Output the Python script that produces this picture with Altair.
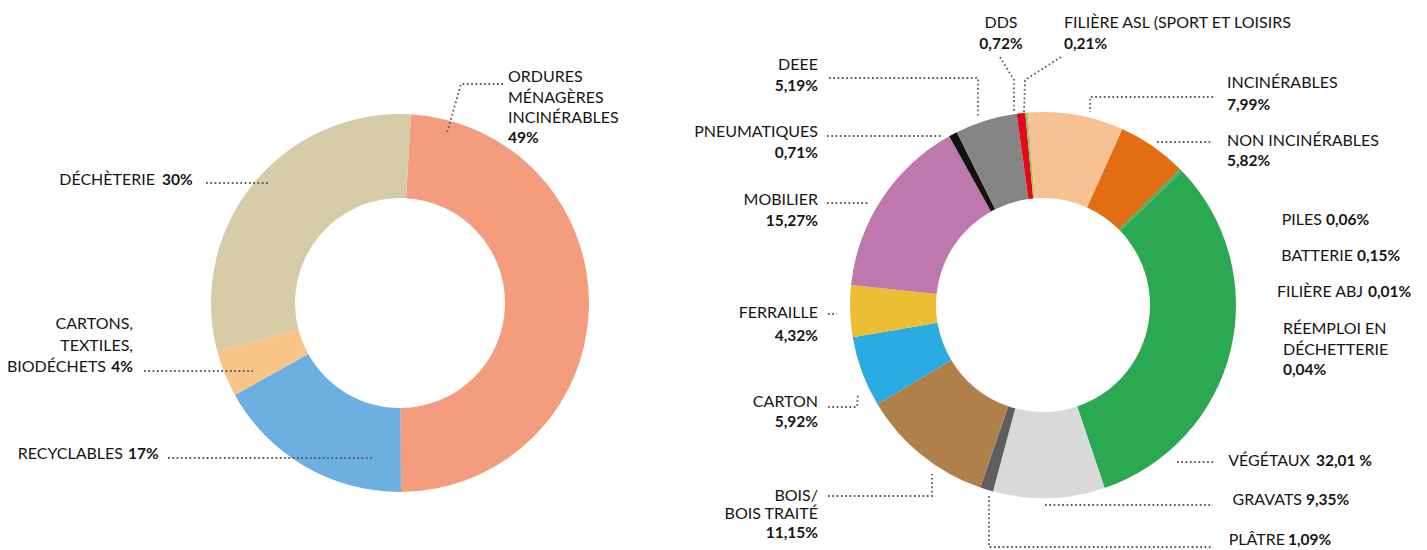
import math
import altair as alt
import pandas as pd

# ---------------- data ----------------
left_categories = ["Ordures ménagères incinérables", "Recyclables",
                   "Cartons, textiles, biodéchets", "Déchèterie"]
left_values = [49, 17, 4, 30]
left_colors = ["#F49C7E", "#6BB0E1", "#F8C487", "#D5CBA7"]

right_categories = ["Non incinérables", "Piles", "Batterie", "Filière ABJ",
                    "Réemploi en déchetterie", "Végétaux", "Gravats", "Plâtre",
                    "Bois/bois traité", "Carton", "Ferraille", "Mobilier",
                    "Pneumatiques", "DEEE", "DDS", "Filière ASL", "Incinérables"]
right_values = [5.82, 0.06, 0.15, 0.01, 0.04, 32.01, 9.35, 1.09, 11.15, 5.92,
                4.32, 15.27, 0.71, 5.19, 0.72, 0.21, 7.99]
right_colors = ["#E36D12", "#2BA952", "#2BA952", "#2BA952", "#2BA952", "#2BA952",
                "#D9D9D9", "#5E5E5E", "#B0804B", "#2AACE3", "#EBBE33", "#BE78AE",
                "#111111", "#858585", "#E20A17", "#9CCB63", "#F8C191"]

# label texts: (text, bold)
label_lines = [
    ("ORDURES", False), ("MÉNAGÈRES", False), ("INCINÉRABLES", False), ("49%", True),
    ("DÉCHÈTERIE", False), ("30%", True),
    ("CARTONS,", False), ("TEXTILES,", False), ("BIODÉCHETS", False), ("4%", True),
    ("RECYCLABLES", False), ("17%", True),
    ("DEEE", False), ("5,19%", True),
    ("DDS", False), ("0,72%", True),
    ("FILIÈRE ASL (SPORT ET LOISIRS", False), ("0,21%", True),
    ("INCINÉRABLES", False), ("7,99%", True),
    ("NON INCINÉRABLES", False), ("5,82%", True),
    ("PNEUMATIQUES", False), ("0,71%", True),
    ("MOBILIER", False), ("15,27%", True),
    ("PILES", False), ("0,06%", True),
    ("BATTERIE", False), ("0,15%", True),
    ("FILIÈRE ABJ", False), ("0,01%", True),
    ("RÉEMPLOI EN", False), ("DÉCHETTERIE", False), ("0,04%", True),
    ("FERRAILLE", False), ("4,32%", True),
    ("CARTON", False), ("5,92%", True),
    ("BOIS/", False), ("BOIS TRAITÉ", False), ("11,15%", True),
    ("VÉGÉTAUX", False), ("32,01 %", True),
    ("GRAVATS", False), ("9,35%", True),
    ("PLÂTRE", False), ("1,09%", True),
]

# ---------------- layout (page pixel coordinates) ----------------
W, H = 1411, 542
left_center = (400, 303)
right_center = (1043, 305)
left_radii = (189, 105)
right_radii = (193, 107)
left_start = math.radians(3.3)
right_start = math.radians(24.26)

label_pos = [
    (508, 82, "left"), (508, 103, "left"), (508, 123, "left"), (508, 143, "left"),
    (155, 185, "right"), (162, 185, "left"),
    (133, 329, "right"), (133, 351, "right"), (106, 372, "right"), (133, 372, "right"),
    (123, 459, "right"), (128, 459, "left"),
    (818, 70, "right"), (818, 91, "right"),
    (1001, 28, "center"), (1001, 49, "center"),
    (1064, 28, "left"), (1064, 49, "left"),
    (1227, 88, "left"), (1227, 110, "left"),
    (1227, 146, "left"), (1227, 166, "left"),
    (818, 137, "right"), (818, 158, "right"),
    (818, 205, "right"), (818, 226, "right"),
    (1322, 225, "right"), (1326, 225, "left"),
    (1353, 261, "right"), (1357, 261, "left"),
    (1363, 297, "right"), (1368, 297, "left"),
    (1283, 334, "left"), (1283, 355, "left"), (1283, 375, "left"),
    (818, 318, "right"), (818, 341, "right"),
    (818, 407, "right"), (818, 427, "right"),
    (818, 501, "right"), (818, 519, "right"), (818, 538, "right"),
    (1310, 466, "right"), (1316, 466, "left"),
    (1302, 505, "right"), (1306, 505, "left"),
    (1285, 545, "right"), (1288, 545, "left"),
]

leaders = [
    [(503, 84), (461, 84), (447, 133)],
    [(206, 183), (270, 183)],
    [(144, 371), (253, 371)],
    [(168, 458), (372, 458)],
    [(829, 78), (978, 78), (978, 117)],
    [(1000, 57), (1014, 80), (1014, 112)],
    [(1061, 57), (1025, 80), (1024, 112)],
    [(1213, 97), (1090, 97), (1090, 112)],
    [(1157, 142), (1212, 142)],
    [(827, 136), (942, 136)],
    [(827, 203), (868, 203)],
    [(828, 314), (837, 314)],
    [(828, 407), (857, 407), (858, 393)],
    [(828, 496), (932, 496), (932, 474)],
    [(1177, 462), (1213, 462)],
    [(1045, 505), (1213, 505)],
    [(989, 496), (989, 547), (1212, 547)],
]

xs = alt.Scale(domain=[8, 8 + W], nice=False, zero=False)
ys = alt.Scale(domain=[8, 8 + H], nice=False, zero=False, reverse=True)


def donut(cats, vals, cols, center, radii, start):
    df = pd.DataFrame({"cat": cats, "value": vals, "color": cols,
                       "idx": list(range(len(cats))),
                       "cx": center[0], "cy": center[1]})
    return alt.Chart(df).mark_arc(
        outerRadius=radii[0], innerRadius=radii[1]
    ).encode(
        theta=alt.Theta("value:Q", stack=True,
                        scale=alt.Scale(range=[start, start + 2 * math.pi])),
        order=alt.Order("idx:Q"),
        color=alt.Color("color:N", scale=None),
        x=alt.X("cx:Q", scale=xs, axis=None),
        y=alt.Y("cy:Q", scale=ys, axis=None),
        tooltip=["cat:N", "value:Q"],
    )


arc_left = donut(left_categories, left_values, left_colors, left_center, left_radii, left_start)
arc_right = donut(right_categories, right_values, right_colors, right_center, right_radii, right_start)

lead_rows = []
for i, pts in enumerate(leaders):
    for j, (px, py) in enumerate(pts):
        lead_rows.append({"id": i, "ord": j, "x": px, "y": py})
lead_df = pd.DataFrame(lead_rows)
lines = alt.Chart(lead_df).mark_line(
    strokeDash=[1.7, 2.6], strokeWidth=1.8, color="#5b5b5b", strokeCap="butt"
).encode(
    x=alt.X("x:Q", scale=xs, axis=None),
    y=alt.Y("y:Q", scale=ys, axis=None),
    detail="id:N",
    order="ord:Q",
)

text_rows = []
for (t, b), (px, py, al) in zip(label_lines, label_pos):
    text_rows.append({"text": t, "bold": b, "x": px, "y": py, "align": al})
text_df = pd.DataFrame(text_rows)

text_layers = []
for bold in (False, True):
    for al in ("left", "right", "center"):
        sub = text_df[(text_df["bold"] == bold) & (text_df["align"] == al)]
        if len(sub) == 0:
            continue
        text_layers.append(
            alt.Chart(sub).mark_text(
                font="Lato", fontSize=15.5 if bold else 16,
                fontWeight="bold" if bold else "normal",
                align=al, baseline="alphabetic", color="#161615"
            ).encode(
                x=alt.X("x:Q", scale=xs, axis=None),
                y=alt.Y("y:Q", scale=ys, axis=None),
                text="text:N",
            )
        )

chart = alt.layer(arc_left, arc_right, lines, *text_layers).resolve_scale(
    theta="independent"
).properties(
    width=W, height=H, autosize="none", padding=0
).configure_view(stroke=None)

chart.save("out.html", embed_options={"renderer": "svg", "actions": False})
